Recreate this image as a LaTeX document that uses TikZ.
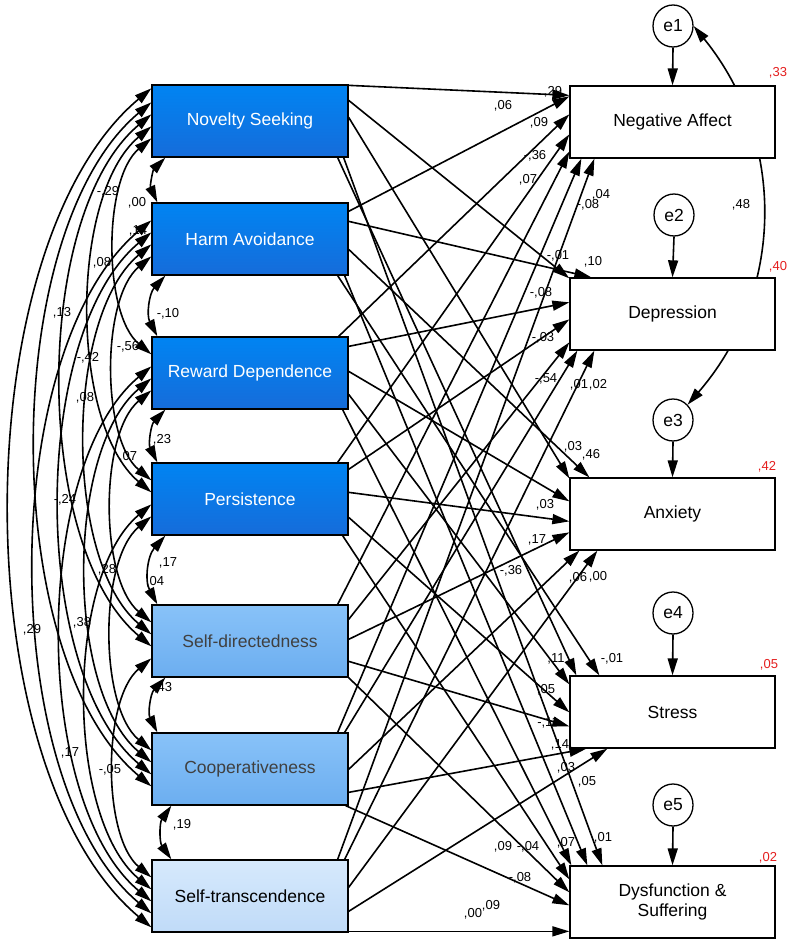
\documentclass[tikz,border=0pt]{standalone}
\usepackage{fontspec}
\setmainfont{Liberation Sans}
\usetikzlibrary{arrows.meta,shapes.geometric}
\definecolor{dkA}{RGB}{0,132,242}
\definecolor{dkB}{RGB}{22,108,218}
\definecolor{mdA}{RGB}{136,194,248}
\definecolor{mdB}{RGB}{108,174,240}
\definecolor{ltA}{RGB}{214,233,252}
\definecolor{ltB}{RGB}{192,219,248}
\definecolor{rtwo}{RGB}{228,30,30}
\definecolor{gtext}{RGB}{64,64,64}
\begin{document}
\begin{tikzpicture}[x=1pt,y=-1pt,
  >={Triangle[length=17pt,width=10pt]},
  predbox/.style={draw=black,line width=1.3pt,minimum width=196pt,minimum height=72pt,inner sep=0pt,font=\fontsize{17.5}{20}\selectfont},
  darkpred/.style={predbox,top color=dkA,bottom color=dkB,text=white},
  midpred/.style={predbox,top color=mdA,bottom color=mdB,text=gtext},
  lightpred/.style={predbox,top color=ltA,bottom color=ltB,text=black},
  outbox/.style={draw=black,line width=1.3pt,fill=white,minimum width=205pt,minimum height=72pt,inner sep=0pt,align=center,font=\fontsize{17.5}{20}\selectfont},
  errnode/.style={draw=black,line width=1.3pt,fill=white,ellipse,minimum width=40pt,minimum height=42pt,inner sep=0pt,font=\fontsize{17.5}{20}\selectfont},
  pth/.style={->,line width=1.6pt},
  cov/.style={<->,line width=1.6pt},
  lab/.style={inner sep=0pt,font=\fontsize{13}{14}\selectfont},
  rlab/.style={lab,text=rtwo}
]
\useasboundingbox (0,0) rectangle (788,941);

% error terms and their covariance (drawn before the outcome boxes)
\node[errnode] (e1) at (673,26) {e1};
\node[errnode] (e2) at (674,215) {e2};
\node[errnode] (e3) at (673,420) {e3};
\node[errnode] (e4) at (673,613) {e4};
\node[errnode] (e5) at (673,805) {e5};
\draw[cov] (e1.east) to[bend left=40] (e3.north east);

% predictors
\node[darkpred] (NS) at (250,121) {Novelty Seeking};
\node[darkpred] (HA) at (250,239) {Harm Avoidance};
\node[darkpred] (RD) at (250,373) {Reward Dependence};
\node[darkpred] (PE) at (250,499) {Persistence};
\node[midpred] (SD) at (250,641) {Self-directedness};
\node[midpred] (CO) at (250,769) {Cooperativeness};
\node[lightpred] (ST) at (250,896) {Self-transcendence};

% outcomes
\node[outbox] (NA) at (672.5,122) {Negative Affect};
\node[outbox] (DE) at (672.5,314) {Depression};
\node[outbox] (AN) at (672.5,514) {Anxiety};
\node[outbox] (SR) at (672.5,712) {Stress};
\node[outbox] (DY) at (672.5,902) {Dysfunction \&\\Suffering};

% error arrows
\draw[pth] (e1.south) -- (NA.north);
\draw[pth] (e2.south) -- (DE.north);
\draw[pth] (e3.south) -- (AN.north);
\draw[pth] (e4.south) -- (SR.north);
\draw[pth] (e5.south) -- (DY.north);

% paths: Novelty Seeking
\draw[pth] ([yshift=-1pt]NS.north east) -- ([yshift=-10pt]NA.north west);
\draw[pth] ([yshift=-16pt]NS.north east) -- ([yshift=-1pt]DE.north west);
\draw[pth] ([yshift=-33pt]NS.north east) -- ([yshift=-1pt]AN.north west);
\draw[pth] ([xshift=-11pt]NS.south east) -- ([xshift=7pt]SR.north west);
\draw[pth] ([xshift=-5pt]NS.south east) -- ([xshift=33pt]DY.north west);
% Harm Avoidance
\draw[pth] ([yshift=-9pt]HA.north east) -- ([yshift=-11pt]NA.north west);
\draw[pth] ([yshift=-19pt]HA.north east) -- ([xshift=22pt]DE.north west);
\draw[pth] ([yshift=-47pt]HA.north east) -- ([xshift=20pt]AN.north west);
\draw[pth] ([xshift=-11pt]HA.south east) -- ([xshift=30pt]SR.north west);
\draw[pth] ([xshift=-4pt]HA.south east) -- ([xshift=18pt]DY.north west);
% Reward Dependence
\draw[pth] ([xshift=-10pt]RD.north east) -- ([yshift=-29pt]NA.north west);
\draw[pth] ([yshift=-10pt]RD.north east) -- ([yshift=-25pt]DE.north west);
\draw[pth] ([yshift=-35pt]RD.north east) -- ([yshift=-24pt]AN.north west);
\draw[pth] ([yshift=-58pt]RD.north east) -- ([yshift=-9pt]SR.north west);
\draw[pth] ([xshift=-6pt]RD.south east) -- ([xshift=2pt]DY.north west);
% Persistence
\draw[pth] ([xshift=-11pt]PE.north east) -- ([yshift=-49pt]NA.north west);
\draw[pth] ([yshift=-7pt]PE.north east) -- ([yshift=-42pt]DE.north west);
\draw[pth] ([yshift=-30pt]PE.north east) -- ([yshift=-44pt]AN.north west);
\draw[pth] ([yshift=-55pt]PE.north east) -- ([yshift=-37pt]SR.north west);
\draw[pth] ([xshift=-6pt]PE.south east) -- ([yshift=-14pt]DY.north west);
% Self-directedness
\draw[pth] ([xshift=-11pt]SD.north east) -- ([yshift=-66pt]NA.north west);
\draw[pth] ([yshift=-15pt]SD.north east) -- ([yshift=-65pt]DE.north west);
\draw[pth] ([yshift=-35pt]SD.north east) -- ([yshift=-55pt]AN.north west);
\draw[pth] ([yshift=-57pt]SD.north east) -- ([yshift=-51pt]SR.north west);
\draw[pth] (SD.south east) -- ([yshift=-27pt]DY.north west);
% Cooperativeness
\draw[pth] ([xshift=-11pt]CO.north east) -- ([xshift=12pt]NA.south west);
\draw[pth] ([xshift=-4pt]CO.north east) -- ([xshift=8pt]DE.south west);
\draw[pth] ([yshift=-37pt]CO.north east) -- ([xshift=10pt]AN.south west);
\draw[pth] ([yshift=-60pt]CO.north east) -- ([xshift=17pt]SR.south west);
\draw[pth] ([xshift=-3pt]CO.south east) -- ([yshift=-40pt]DY.north west);
% Self-transcendence
\draw[pth] ([xshift=-11pt]ST.north east) -- ([xshift=25pt]NA.south west);
\draw[pth] ([xshift=-4pt]ST.north east) -- ([xshift=25pt]DE.south west);
\draw[pth] ([yshift=-28pt]ST.north east) -- ([xshift=28pt]AN.south west);
\draw[pth] ([yshift=-52pt]ST.north east) -- ([xshift=38pt]SR.south west);
\draw[pth] ([yshift=-72pt]ST.north east) -- ([yshift=-66pt]DY.north west);

% covariances among predictors: adjacent
\draw[cov] ([xshift=14pt]NS.south west) to[bend right=35] ([xshift=6pt]HA.north west);
\draw[cov] ([xshift=14pt]HA.south west) to[bend right=35] ([xshift=6pt]RD.north west);
\draw[cov] ([xshift=14pt]RD.south west) to[bend right=35] ([xshift=6pt]PE.north west);
\draw[cov] ([xshift=14pt]PE.south west) to[bend right=35] ([xshift=6pt]SD.north west);
\draw[cov] ([xshift=14pt]SD.south west) to[bend right=35] ([xshift=6pt]CO.north west);
\draw[cov] ([xshift=20pt]CO.south west) to[bend right=35] ([xshift=20pt]ST.north west);
% distance 2
\draw[cov] ([yshift=-54pt]NS.north west) to[bend right=50,looseness=0.75] ([yshift=-18pt]RD.north west);
\draw[cov] ([yshift=-54pt]HA.north west) to[bend right=50,looseness=0.75] ([yshift=-18pt]PE.north west);
\draw[cov] ([yshift=-54pt]RD.north west) to[bend right=50,looseness=0.75] ([yshift=-18pt]SD.north west);
\draw[cov] ([yshift=-54pt]PE.north west) to[bend right=50,looseness=0.75] ([yshift=-18pt]CO.north west);
\draw[cov] ([yshift=-54pt]SD.north west) to[bend right=50,looseness=0.75] ([yshift=-18pt]ST.north west);
% distance 3
\draw[cov] ([yshift=-42pt]NS.north west) to[bend right=50,looseness=0.75] ([yshift=-30pt]PE.north west);
\draw[cov] ([yshift=-42pt]HA.north west) to[bend right=50,looseness=0.75] ([yshift=-30pt]SD.north west);
\draw[cov] ([yshift=-42pt]RD.north west) to[bend right=50,looseness=0.75] ([yshift=-30pt]CO.north west);
\draw[cov] ([yshift=-42pt]PE.north west) to[bend right=50,looseness=0.75] ([yshift=-30pt]ST.north west);
% distance 4
\draw[cov] ([yshift=-30pt]NS.north west) to[bend right=50,looseness=0.75] ([yshift=-42pt]SD.north west);
\draw[cov] ([yshift=-30pt]HA.north west) to[bend right=50,looseness=0.75] ([yshift=-42pt]CO.north west);
\draw[cov] ([yshift=-30pt]RD.north west) to[bend right=50,looseness=0.75] ([yshift=-42pt]ST.north west);
% distance 5
\draw[cov] ([yshift=-18pt]NS.north west) to[bend right=50,looseness=0.75] ([yshift=-54pt]CO.north west);
\draw[cov] ([yshift=-18pt]HA.north west) to[bend right=50,looseness=0.75] ([yshift=-54pt]ST.north west);
% distance 6
\draw[cov] ([yshift=-4pt]NS.north west) to[bend right=50,looseness=0.75] ([yshift=-68pt]ST.north west);

% covariance labels
\node[lab] at (108,192) {-,29};
\node[lab] at (137,203) {,00};
\node[lab] at (138,231) {,14};
\node[lab] at (102,263) {,08};
\node[lab] at (62,313) {,13};
\node[lab] at (168,314) {-,10};
\node[lab] at (128,347) {-,56};
\node[lab] at (88,358) {-,42};
\node[lab] at (85,398) {,08};
\node[lab] at (162,440) {,23};
\node[lab] at (128,457) {,07};
\node[lab] at (65,500) {-,24};
\node[lab] at (168,563) {,17};
\node[lab] at (107,570) {,28};
\node[lab] at (155,582) {,04};
\node[lab] at (82,623) {,38};
\node[lab] at (32,630) {,29};
\node[lab] at (163,688) {,43};
\node[lab] at (70,753) {,17};
\node[lab] at (110,770) {-,05};
\node[lab] at (182,825) {,19};
\node[lab] at (741,205) {,48};

% path labels: Negative Affect
\node[lab] at (553,92) {,29};
\node[lab] at (503,106) {,06};
\node[lab] at (539,123) {,09};
\node[lab] at (535,156) {-,36};
\node[lab] at (528,180) {,07};
\node[lab] at (588,205) {-,08};
\node[lab] at (601,195) {,04};
% Depression
\node[lab] at (558,256) {-,01};
\node[lab] at (593,262) {,10};
\node[lab] at (541,293) {-,08};
\node[lab] at (543,338) {-,03};
\node[lab] at (546,379) {-,54};
\node[lab] at (579,385) {,01};
\node[lab] at (598,385) {,02};
% Anxiety
\node[lab] at (573,447) {,03};
\node[lab] at (591,455) {,46};
\node[lab] at (545,505) {,03};
\node[lab] at (537,540) {,17};
\node[lab] at (511,571) {-,36};
\node[lab] at (578,578) {,06};
\node[lab] at (598,577) {,00};
% Stress
\node[lab] at (556,659) {,11};
\node[lab] at (612,659) {-,01};
\node[lab] at (546,690) {,05};
\node[lab] at (548,723) {-,11};
\node[lab] at (560,745) {,14};
\node[lab] at (566,768) {,03};
\node[lab] at (587,782) {,05};
% Dysfunction & Suffering
\node[lab] at (503,847) {,09};
\node[lab] at (528,847) {-,04};
\node[lab] at (566,843) {,07};
\node[lab] at (603,838) {,01};
\node[lab] at (520,878) {-,08};
\node[lab] at (473,914) {,00};
\node[lab] at (491,906) {,09};

% squared multiple correlations
\node[rlab] at (778,73) {,33};
\node[rlab] at (778,267) {,40};
\node[rlab] at (767,467) {,42};
\node[rlab] at (769,665) {,05};
\node[rlab] at (768,858) {,02};
\end{tikzpicture}
\end{document}
